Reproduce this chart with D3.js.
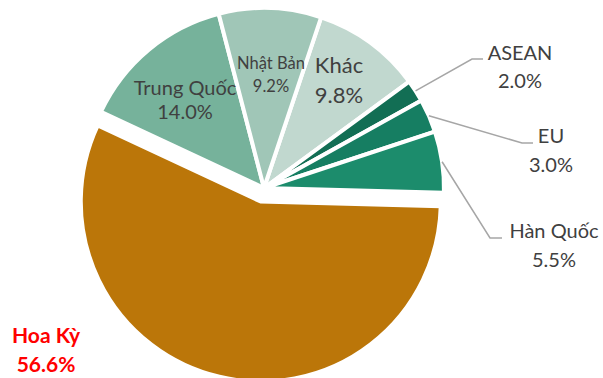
<!DOCTYPE html>
<html>
<head>
<meta charset="utf-8">
<script src="https://cdn.jsdelivr.net/npm/d3@7"></script>
<style>
  html, body { margin: 0; padding: 0; background: #fff; }
  svg { display: block; }
  text { font-family: Lato, "Open Sans", sans-serif; }
</style>
</head>
<body>
<div id="chart"></div>
<script>
// Export market shares (%), listed clockwise from the slice after 12 o'clock
const categories = ["Khác", "ASEAN", "EU", "Hàn Quốc", "Hoa Kỳ", "Trung Quốc", "Nhật Bản"];
const shares     = [9.8, 2.0, 3.0, 5.5, 56.6, 14.0, 9.2];
const sliceColors = ["#C1D8CF", "#126E54", "#167E62", "#1C8C6C", "#BB7609", "#76B29B", "#A0C6B7"];

// Highlighted (pulled-out) slice
const highlighted = "Hoa Kỳ";

// Label layout: anchor (x, y of first baseline), line gap, font size, leader elbow
const labelLayout = {
  "Khác":       { x: 339, y: 73,  gap: 30, size: 22 },
  "ASEAN":      { x: 520, y: 60,  gap: 28, size: 20, elbow: [472, 59], tail: 483 },
  "EU":         { x: 551, y: 143, gap: 29, size: 20, elbow: [522, 143], tail: 533 },
  "Hàn Quốc":   { x: 554, y: 238, gap: 29, size: 20, elbow: [490, 238], tail: 502 },
  "Hoa Kỳ":     { x: 46,  y: 343, gap: 29, size: 21, bold: true, color: "#FF0000" },
  "Trung Quốc": { x: 185, y: 95,  gap: 24, size: 20 },
  "Nhật Bản":   { x: 271, y: 69,  gap: 23, size: 16.5 }
};

const width = 603, height = 378;
const cx = 264, cy = 188, radius = 180, pullOut = 14;
const startDeg = 18.5;

const data = categories.map((c, i) => ({ name: c, value: shares[i], color: sliceColors[i] }));

const svg = d3.select("#chart").append("svg")
  .attr("width", width).attr("height", height);

const pie = d3.pie()
  .sort(null)
  .value(d => d.value)
  .startAngle(startDeg * Math.PI / 180)
  .endAngle(startDeg * Math.PI / 180 + 2 * Math.PI);

const arc = d3.arc().innerRadius(0).outerRadius(radius);
const arcs = pie(data);

const g = svg.append("g").attr("transform", `translate(${cx},${cy})`);

g.selectAll("path.slice")
  .data(arcs)
  .join("path")
  .attr("class", "slice")
  .attr("d", arc)
  .attr("fill", d => d.data.color)
  .attr("stroke", "#fff")
  .attr("stroke-width", 4)
  .attr("stroke-linejoin", "miter")
  .attr("transform", d => {
    if (d.data.name !== highlighted) return null;
    const mid = (d.startAngle + d.endAngle) / 2;
    return `translate(${Math.sin(mid) * pullOut},${-Math.cos(mid) * pullOut})`;
  });

// Leader lines for the narrow slices
const fmt = d3.format(".1f");
arcs.forEach(d => {
  const L = labelLayout[d.data.name];
  if (!L.elbow) return;
  const mid = (d.startAngle + d.endAngle) / 2;
  const p0 = [cx + Math.sin(mid) * radius, cy - Math.cos(mid) * radius];
  svg.append("polyline")
    .attr("points", [p0, L.elbow, [L.tail, L.elbow[1]]].map(p => p.join(",")).join(" "))
    .attr("fill", "none")
    .attr("stroke", "#A6A6A6")
    .attr("stroke-width", 1.5);
});

// Category name and share labels
arcs.forEach(d => {
  const L = labelLayout[d.data.name];
  const t = svg.append("text")
    .attr("text-anchor", "middle")
    .attr("fill", L.color || "#404040")
    .attr("font-size", L.size)
    .attr("font-weight", L.bold ? "bold" : "normal");
  t.append("tspan").attr("x", L.x).attr("y", L.y).text(d.data.name);
  t.append("tspan").attr("x", L.x).attr("y", L.y + L.gap).text(fmt(d.data.value) + "%");
});
</script>
</body>
</html>
